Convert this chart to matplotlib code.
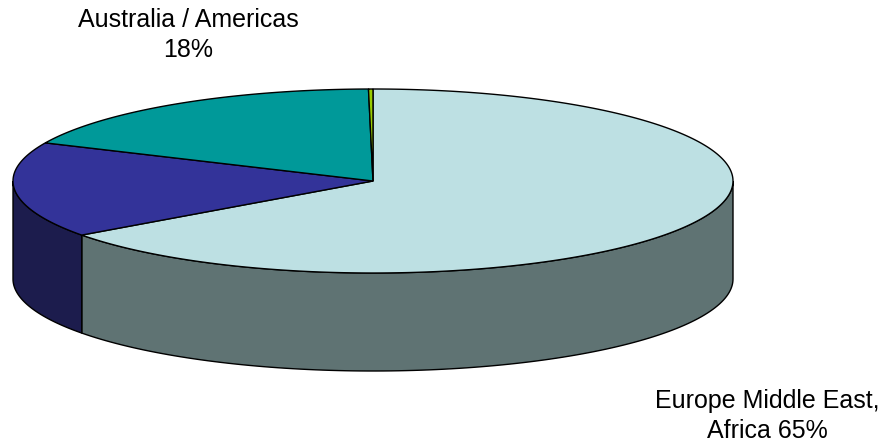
import numpy as np
import matplotlib.pyplot as plt
from matplotlib.patches import Polygon

plt.rcParams['font.family'] = ['Liberation Sans', 'DejaVu Sans']

# regions, clockwise from 12 o'clock
regions = ['Europe Middle East, Africa', 'Asia', 'Australia / Americas', 'Other']
shares = [65.0, 16.8, 18.0, 0.2]
top_colors = ['#bde0e3', '#333399', '#009999', '#99cc00']
side_colors = ['#5f7373', '#1c1c4d', '#004d4d', '#4d6600']

cx, cy = 373, 181      # centre of the top face
rx, ry = 360, 92       # ellipse radii
depth = 98

fig = plt.figure(figsize=(8.87, 4.43), dpi=100)
ax = fig.add_axes([0, 0, 1, 1])
ax.set_xlim(0, 887)
ax.set_ylim(443, 0)
ax.axis('off')


def pt(a):
    r = np.radians(a)
    return cx + rx * np.cos(r), cy - ry * np.sin(r)


angles = 90 - 360 * np.cumsum([0] + shares) / sum(shares)

# side walls: only the part of each slice facing the viewer (180..360 deg)
for i in range(len(shares)):
    a0, a1 = angles[i + 1], angles[i]   # a0 < a1
    # map into the same turn as the front half
    for shift in (0, 360, -360):
        lo = max(a0 + shift, 180)
        hi = min(a1 + shift, 360)
        if hi > lo:
            t = np.linspace(lo, hi, 120)
            xs, ys = zip(*[pt(a) for a in t])
            xs, ys = np.array(xs), np.array(ys)
            verts = list(zip(xs, ys)) + list(zip(xs[::-1], ys[::-1] + depth))
            ax.add_patch(Polygon(verts, closed=True, fc=side_colors[i],
                                 ec='black', lw=1.0, zorder=1))

# top faces
for i in range(len(shares)):
    t = np.linspace(angles[i], angles[i + 1], 300)
    verts = [(cx, cy)] + [pt(a) for a in t]
    ax.add_patch(Polygon(verts, closed=True, fc=top_colors[i],
                         ec='black', lw=1.0, zorder=2))

ax.text(188, 35, 'Australia / Americas\n18%', ha='center', va='center',
        fontsize=18, linespacing=1.35)
ax.text(767, 416, 'Europe Middle East,\nAfrica 65%', ha='center', va='center',
        fontsize=18, linespacing=1.35)

plt.savefig('out.png', dpi=100)
